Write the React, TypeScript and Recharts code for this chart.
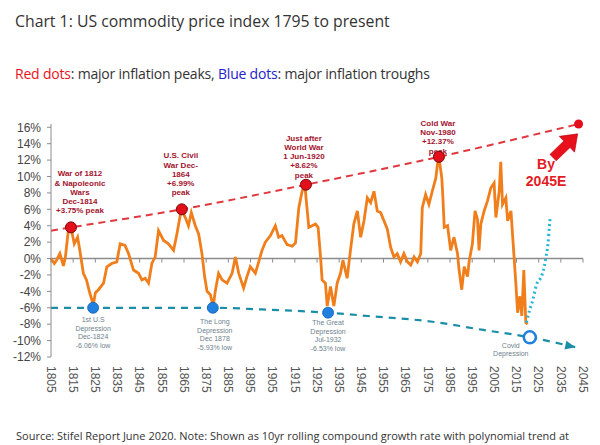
import React from "react";
import { ComposedChart, Line, Scatter, XAxis, YAxis, ReferenceLine } from "recharts";

// 10yr rolling compound growth rate of the US commodity price index (%)
const priceYears = [
  1805, 1806.5, 1807.5, 1809, 1810, 1810.6, 1811.5, 1812.8, 1814, 1815.5, 1817, 1818, 1819.6, 1821, 1822.5,
  1823.4, 1824, 1825, 1826.4, 1828.7, 1830.2, 1832.4, 1834.7, 1836.2, 1838.4, 1840, 1842.2, 1844.5, 1846,
  1847.5, 1849, 1850.5, 1852, 1853.5, 1855.8, 1858, 1860.3, 1861.8, 1863.8, 1865.6, 1867, 1868.3, 1870.1,
  1871.6, 1873.1, 1874.3, 1875.4, 1876.9, 1877.6, 1878.1, 1879.1, 1880.6, 1882.2, 1884.4, 1886.7, 1888.2,
  1889.7, 1891.9, 1893.4, 1894.9, 1897.2, 1898.7, 1900.2, 1901.7, 1904, 1906.2, 1907.7, 1909.2, 1911.5,
  1913.8, 1915.3, 1916.8, 1918.3, 1919.5, 1920.6, 1921.3, 1922.8, 1924.3, 1925.5, 1926.6, 1927.3, 1928.8,
  1929.6, 1931.1, 1932.6, 1934.1, 1935.6, 1936.7, 1938.6, 1940.1, 1941.6, 1943.2, 1944.7, 1946.2, 1947.7,
  1949.2, 1950.7, 1952.2, 1953.7, 1955.2, 1956.7, 1958.2, 1959.7, 1961.2, 1962.7, 1964.2, 1965.8, 1967.3,
  1968.8, 1970.3, 1971.8, 1972.5, 1974, 1975.5, 1977, 1978.6, 1979.3, 1980, 1981.3, 1981.8, 1982.4, 1983.9,
  1985.3, 1986.8, 1988.4, 1989.1, 1990.3, 1991.4, 1992.9, 1993.6, 1995.1, 1996.3, 1997.4, 1998.1, 1998.9,
  2000.4, 2001.9, 2003.4, 2004.9, 2005.7, 2007.2, 2007.9, 2008.7, 2010.2, 2011, 2012.5, 2013.5, 2014.7,
  2015.5, 2016.5, 2017.4, 2018.3, 2019.2, 2020,
];
const priceGrowth = [
  0.0, -0.6, -0.2, 0.6, -0.3, -0.9, 0.2, 3.4, 3.8, 1.8, 2.6, 1.0, -1.8, -2.6, -4.2,
  -5.0, -5.8, -4.2, -3.8, -3.0, -1.0, -0.6, -0.4, 1.8, 1.6, 0.6, -1.4, -1.8, -2.6,
  -2.4, -3.0, -0.6, 0.2, 3.4, 2.2, 1.8, 1.0, 3.0, 6.0, 5.0, 4.0, 5.6, 4.0,
  3.0, 0.6, -2.2, -4.0, -4.4, -5.2, -6.0, -4.0, -1.8, -2.6, -3.0, -1.8, 0.2,
  -1.8, -3.6, -2.2, -1.0, -1.8, -0.4, 1.0, 2.0, 2.8, 4.0, 2.6, 2.8, 1.7,
  1.5, 1.9, 6.2, 8.2, 9.0, 5.8, 3.8, 4.0, 4.2, 3.8, 0.2, -2.6, -3.0,
  -5.8, -3.4, -5.8, -3.0, -1.8, -0.2, -2.4, 1.0, 4.2, 5.8, 2.6, 4.6, 7.4,
  6.8, 8.2, 5.8, 5.6, 4.6, 3.6, 1.4, 0.2, 0.6, -0.4, 0.6, -0.4, -0.8,
  0.2, -0.4, 0.6, 6.2, 7.8, 6.6, 8.2, 9.8, 11.4, 12.4, 9.8, 7.4, 3.8, 4.0,
  1.0, 2.6, 0.6, -1.4, -3.8, -1.0, -2.2, -0.4, 1.8, 5.8, 4.8, 1.0, 4.2,
  5.8, 7.0, 8.6, 9.2, 5.0, 8.2, 11.8, 6.6, 7.4, 4.6, 5.8, 1.8, -3.0,
  -6.6, -4.6, -7.0, -1.4, -7.8, -8.0,
];

// polynomial trend through the inflation peaks, projected to 2045
const peakTrendYears = [1805, 1814, 1864, 1920, 1980, 2043];
const peakTrendValues = [3.4, 3.8, 6.0, 9.0, 12.4, 16.4];

const peakYears = [1814, 1864, 1920, 1980];
const peakValues = [3.8, 6.0, 9.0, 12.4];
const peakNotes = [
  ["War of 1812", "& Napoleonic", "Wars", "Dec-1814", "+3.75% peak"],
  ["U.S. Civil", "War Dec-", "1864", "+6.99%", "peak"],
  ["Just after", "World War", "1 Jun-1920", "+8.62%", "peak"],
  ["Cold War", "Nov-1980", "+12.37%", "peak"],
];

const targetYears = [2043];
const targetValues = [16.4];
const targetNote = ["By", "2045E"];
const arrowYears = [2031.5, 2042.6];
const arrowValues = [12.3, 15.2];

// trend through the inflation troughs
const troughTrendYears = [1805, 1824, 1878, 1900, 1930, 1948, 1977, 2000, 2021, 2041.5];
const troughTrendValues = [-6.0, -6.0, -6.0, -6.2, -6.6, -7.0, -7.7, -8.7, -9.6, -10.8];

const troughYears = [1824, 1878, 1930];
const troughValues = [-6.0, -6.0, -6.6];
const troughNotes = [
  ["1st U.S", "Depression", "Dec-1824", "-6.06% low"],
  ["The Long", "Depression", "Dec 1878", "-5.93% low"],
  ["The Great", "Depression", "Jul-1932", "-6.53% low"],
];

const covidYears = [2021];
const covidValues = [-9.6];
const covidNote = ["Covid", "Depression"];

// projected rebound (dotted)
const reboundYears = [2019.5, 2021, 2022, 2024, 2026.5, 2027.5, 2028.3, 2029.2, 2029.8, 2030.2];
const reboundValues = [-7.8, -6.2, -5.4, -3.2, -2.0, -1.0, 0.2, 1.8, 3.8, 5.0];

const xTicks = [1805, 1815, 1825, 1835, 1845, 1855, 1865, 1875, 1885, 1895, 1905, 1915, 1925, 1935, 1945, 1955, 1965, 1975, 1985, 1995, 2005, 2015, 2025, 2035, 2045];
const yTicks = [-12, -10, -8, -6, -4, -2, 0, 2, 4, 6, 8, 10, 12, 14, 16];

const zip = (xs: number[], ys: number[]) => xs.map((year, i) => ({ year, value: ys[i] }));

const priceData = zip(priceYears, priceGrowth);
const peakTrend = zip(peakTrendYears, peakTrendValues);
const peaks = zip(peakYears, peakValues);
const target = zip(targetYears, targetValues);
const troughTrend = zip(troughTrendYears, troughTrendValues);
const troughs = zip(troughYears, troughValues);
const covid = zip(covidYears, covidValues);
const rebound = zip(reboundYears, reboundValues);

const AXIS = "#8c8c8c";
const FONT = "'Liberation Sans', Arial, sans-serif";
const TEXT_FONT = "'Open Sans', sans-serif";

// label placement relative to each dot, in px
const peakNoteOffset = [
  { dx: 9, dy: -17 },
  { dx: -1, dy: -17 },
  { dx: -2, dy: -10 },
  { dx: -1, dy: -6 },
];
const troughNoteOffset = [
  { dx: 0, dy: 12 },
  { dx: 2, dy: 14 },
  { dx: 0, dy: 10 },
];

const PeakDot = (props: any) => {
  const { cx, cy, payload } = props;
  const i = peakYears.indexOf(payload.year);
  const lines = peakNotes[i] || [];
  const off = peakNoteOffset[i] || { dx: 0, dy: 0 };
  return (
    <g>
      {lines.map((t, k) => (
        <text
          key={k}
          x={cx + off.dx}
          y={cy + off.dy - (lines.length - 1 - k) * 9.2}
          dy="0.35em"
          textAnchor="middle"
          fontSize={8}
          fontWeight={700}
          fontFamily={FONT}
          fill="#a3122e"
        >
          {t}
        </text>
      ))}
      <circle cx={cx} cy={cy} r={5.5} fill="#e3101c" stroke="#7a0a0a" strokeWidth={1} />
    </g>
  );
};

const TroughDot = (props: any) => {
  const { cx, cy, payload } = props;
  const i = troughYears.indexOf(payload.year);
  const lines = troughNotes[i] || [];
  const off = troughNoteOffset[i] || { dx: 0, dy: 0 };
  return (
    <g>
      {lines.map((t, k) => (
        <text
          key={k}
          x={cx + off.dx}
          y={cy + off.dy + k * 8.5}
          dy="0.35em"
          textAnchor="middle"
          fontSize={7}
          fontFamily={FONT}
          fill="#6e7f8e"
        >
          {t}
        </text>
      ))}
      <circle cx={cx} cy={cy} r={5.5} fill="#1f80e0" stroke="#1560b0" strokeWidth={0.8} />
    </g>
  );
};

const CovidDot = (props: any) => {
  const { cx, cy } = props;
  return (
    <g>
      {covidNote.map((t, k) => (
        <text key={k} x={cx - 19} y={cy + 8 + k * 8.5} dy="0.35em" textAnchor="middle" fontSize={7} fontFamily={FONT} fill="#6e7f8e">
          {t}
        </text>
      ))}
      <circle cx={cx} cy={cy} r={6} fill="#fff" stroke="#1f80e0" strokeWidth={2.5} />
    </g>
  );
};

const TargetDot = (props: any) => {
  const { cx, cy } = props;
  return <circle cx={cx} cy={cy} r={4.5} fill="#e3101c" />;
};

const BigArrow = (props: any) => {
  const { x1, y1, x2, y2 } = props;
  const a = Math.atan2(y2 - y1, x2 - x1);
  const len = Math.hypot(x2 - x1, y2 - y1);
  const head = 15;
  const shaft = 4.5;
  const wing = 11;
  const pts = [
    [0, -shaft],
    [len - head, -shaft],
    [len - head, -wing],
    [len, 0],
    [len - head, wing],
    [len - head, shaft],
    [0, shaft],
  ]
    .map(([u, v]) => `${x1 + u * Math.cos(a) - v * Math.sin(a)},${y1 + u * Math.sin(a) + v * Math.cos(a)}`)
    .join(" ");
  return (
    <g>
      {targetNote.map((t, k) => (
        <text key={k} x={x1 - 7} y={y1 + 6 + k * 17} dy="0.35em" textAnchor="middle" fontSize={14} fontWeight={700} fontFamily={FONT} fill="#e31b23">
          {t}
        </text>
      ))}
      <polygon points={pts} fill="#e8101a" stroke="#b00010" strokeWidth={0.6} />
    </g>
  );
};

const ArrowHead = (props: any) => {
  const { x1, y1, x2, y2 } = props;
  const a = (Math.atan2(y2 - y1, x2 - x1) * 180) / Math.PI;
  return (
    <polygon
      points={`${x2},${y2} ${x2 - 10},${y2 - 4.5} ${x2 - 10},${y2 + 4.5}`}
      transform={`rotate(${a}, ${x2}, ${y2})`}
      fill="#1a8ea6"
    />
  );
};

const XTick = ({ x, y, payload }: any) => (
  <text
    x={x}
    y={y}
    dy="0.35em"
    transform={`rotate(90, ${x}, ${y})`}
    textAnchor="start"
    fontSize={12}
    fontFamily={FONT}
    fill="#555"
  >
    {payload.value}
  </text>
);

const last = troughTrend.length - 1;

export default function App() {
  return (
    <div style={{ position: "absolute", left: 0, top: 0, width: 600, height: 445, background: "#fff", overflow: "hidden" }}>
      <div style={{ position: "absolute", left: 15, top: 11, lineHeight: "20px", fontSize: 15.8, fontFamily: TEXT_FONT, color: "#333", whiteSpace: "nowrap" }}>
        Chart 1: US commodity price index 1795 to present
      </div>
      <div style={{ position: "absolute", left: 15, top: 64, lineHeight: "20px", fontSize: 14, letterSpacing: -0.2, fontFamily: TEXT_FONT, color: "#333", whiteSpace: "nowrap" }}>
        <span style={{ color: "#e8141c" }}>Red dots</span>: major inflation peaks, <span style={{ color: "#2222cc" }}>Blue dots</span>: major inflation troughs
      </div>
      <ComposedChart width={600} height={445} margin={{ top: 124, right: 17, bottom: 48, left: 8 }}>
        <XAxis
          dataKey="year"
          type="number"
          domain={[1805, 2045]}
          ticks={xTicks}
          interval={0}
          axisLine={false}
          tickLine={false}
          tickSize={0}
          tickMargin={9}
          height={40}
          tick={<XTick />}
        />
        <YAxis
          type="number"
          domain={[-12, 16]}
          ticks={yTicks}
          interval={0}
          width={43}
          stroke={AXIS}
          tickSize={4}
          tickMargin={6}
          tickFormatter={(v: number) => `${v}%`}
          tick={{ fill: "#444", fontSize: 12, fontFamily: FONT }}
        />
        <ReferenceLine y={0} stroke={AXIS} strokeWidth={1.5} />
        {xTicks.map((t) => (
          <ReferenceLine key={t} segment={[{ x: t, y: 0 }, { x: t, y: -0.5 }]} stroke={AXIS} strokeWidth={1} />
        ))}
        <Line data={priceData} dataKey="value" type="linear" stroke="#f07e1b" strokeWidth={2.8} dot={false} isAnimationActive={false} />
        <Line data={peakTrend} dataKey="value" type="monotone" stroke="#e0383e" strokeWidth={2} strokeDasharray="7 5" dot={false} isAnimationActive={false} />
        <Line data={troughTrend} dataKey="value" type="monotone" stroke="#1a8ea6" strokeWidth={2.2} strokeDasharray="7 6" dot={false} isAnimationActive={false} />
        <Line data={rebound} dataKey="value" type="monotone" stroke="#22b6da" strokeWidth={3} strokeDasharray="2 3" dot={false} isAnimationActive={false} />
        <ReferenceLine
          segment={[
            { x: troughTrend[last - 1].year, y: troughTrend[last - 1].value },
            { x: troughTrend[last].year, y: troughTrend[last].value },
          ]}
          stroke="none"
          shape={<ArrowHead />}
        />
        <ReferenceLine
          segment={[
            { x: arrowYears[0], y: arrowValues[0] },
            { x: arrowYears[1], y: arrowValues[1] },
          ]}
          stroke="none"
          shape={<BigArrow />}
        />
        <Scatter data={peaks} dataKey="value" shape={<PeakDot />} isAnimationActive={false} />
        <Scatter data={target} dataKey="value" shape={<TargetDot />} isAnimationActive={false} />
        <Scatter data={troughs} dataKey="value" shape={<TroughDot />} isAnimationActive={false} />
        <Scatter data={covid} dataKey="value" shape={<CovidDot />} isAnimationActive={false} />
      </ComposedChart>
      <div style={{ position: "absolute", left: 16, top: 428, lineHeight: "16px", fontSize: 11, fontFamily: TEXT_FONT, color: "#333", whiteSpace: "nowrap" }}>
        Source: Stifel Report June 2020. Note: Shown as 10yr rolling compound growth rate with polynomial trend at
      </div>
    </div>
  );
}
